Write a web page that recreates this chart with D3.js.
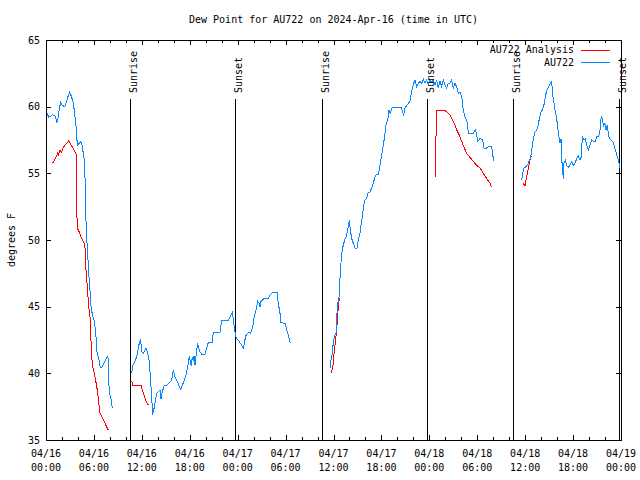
<!DOCTYPE html>
<html><head><meta charset="utf-8">
<script src="https://cdn.jsdelivr.net/npm/d3@7"></script>
<style>
body{margin:0;background:#fff}
svg{display:block}
text{font-family:"DejaVu Sans Mono","Liberation Mono",monospace;font-size:10px;fill:#000}
</style>
</head><body><svg id="c" width="640" height="480"></svg>
<script>
const chartTitle = "Dew Point for AU722 on 2024-Apr-16 (time in UTC)";
const yAxisLabel = "degrees F";
const startTime = "2024-04-16T00:00:00Z";
const yTicks = [35, 40, 45, 50, 55, 60, 65];
const seriesNames = ["AU722 Analysis", "AU722"];
const seriesColors = ["#ff0000", "#0a88ff"];

// hours since 04/16 00:00 UTC; null value = gap
const analysisHours = [
  0.79,1.0,1.25,1.44,1.56,1.75,1.94,2.13,2.5,2.88,3.26,3.57,3.76,3.79,3.92,4.17,4.47,4.76,4.92,5.01,5.17,5.35,5.51,5.63,5.72,5.85,6.14,6.42,6.76,7.18,7.8,
  9.0,
  10.73,10.89,11.9,12.06,12.27,12.48,12.73,12.94,
  20.0,
  35.65,35.77,35.94,36.06,36.19,36.31,36.44,36.53,36.65,36.73,36.85,
  42.0,
  48.8,48.81,48.92,49.88,50.18,50.59,50.8,51.13,51.43,51.72,52.05,52.38,52.68,53.09,53.51,53.93,54.35,54.76,55.18,55.6,55.81,
  58.0,
  59.77,59.98,60.1,60.27,60.44,60.61,60.73,60.9
];
const analysisValues = [
  55.75,55.9,56.2,56.5,56.4,56.7,56.6,56.9,57.2,57.45,57.0,56.7,56.45,53.6,50.9,50.6,50.1,49.8,49.25,47.75,46.5,45.0,44.25,42.5,41.25,40.5,39.75,38.75,37.0,36.5,35.75,
  null,
  39.4,39.1,39.1,38.75,38.4,38.0,37.7,37.6,
  null,
  40.1,40.1,40.6,41.4,42.1,42.75,43.6,44.4,45.25,45.6,45.6,
  null,
  54.7,57.2,59.75,59.75,59.6,59.4,59.1,58.75,58.25,57.9,57.4,56.9,56.5,56.2,55.9,55.6,55.4,55.0,54.6,54.25,53.95,
  null,
  54.25,54.05,54.5,55.0,55.5,56.0,56.3,56.2
];

const obsHours = [
  0.09,0.34,0.59,0.84,1.21,1.34,1.47,1.72,1.84,2.04,2.34,2.59,2.75,2.97,3.22,3.42,3.59,3.79,3.92,4.17,4.35,4.51,4.67,4.85,4.92,5.01,5.1,5.22,5.3,5.47,5.63,5.8,6.05,6.22,6.39,6.6,6.8,7.05,7.35,7.55,7.76,7.8,7.93,8.14,8.3,
  9.5,
  10.73,10.89,11.14,11.36,11.56,11.73,11.86,11.98,12.18,12.4,12.52,12.68,12.9,13.02,13.19,13.36,13.49,13.65,13.86,14.06,14.27,14.4,14.56,14.81,15.11,15.4,15.74,15.94,16.15,16.44,16.69,16.9,17.07,17.32,17.49,17.66,17.82,17.94,18.07,18.19,18.32,18.44,18.53,18.66,18.75,18.87,19.0,19.07,19.28,19.5,19.91,20.12,20.32,20.82,20.95,21.79,22.0,22.83,23.08,23.25,23.38,23.45,23.58,23.7,23.88,24.08,24.29,24.51,24.71,25.01,25.26,25.42,25.58,25.76,25.96,26.08,26.26,26.42,26.51,26.67,26.8,26.92,27.09,27.26,27.84,28.09,28.39,28.93,29.09,29.3,29.43,29.93,30.14,30.34,30.47,30.59,
  33.0,
  35.6,35.69,35.85,35.94,36.1,36.31,36.44,36.53,36.69,36.78,36.9,37.03,37.19,37.35,37.57,37.73,37.85,37.98,38.1,38.28,38.48,38.69,38.94,39.11,39.32,39.44,39.61,39.78,39.94,40.16,40.28,40.57,40.78,40.98,41.2,41.41,41.61,41.74,41.86,42.04,42.24,42.45,42.57,42.79,42.95,43.11,43.29,43.49,44.45,44.67,44.79,44.95,45.17,45.37,45.58,45.71,45.87,46.04,46.21,46.42,46.62,46.83,47.05,47.25,47.46,47.67,47.87,48.08,48.3,48.5,48.71,48.92,49.12,49.34,49.55,49.75,49.96,50.17,50.38,50.59,50.8,51.0,51.21,51.42,51.63,51.84,52.05,52.25,52.46,52.68,52.8,52.88,53.51,53.76,53.93,54.05,54.34,54.68,54.85,55.18,55.39,55.81,55.94,56.06,
  58.0,
  59.57,59.69,59.85,60.1,60.39,60.61,60.77,60.9,61.02,61.23,61.45,61.64,61.77,61.98,62.2,62.4,62.57,62.7,62.86,63.02,63.2,63.32,63.45,63.61,63.77,63.95,64.07,64.24,64.36,64.49,64.57,64.7,64.78,64.86,65.03,65.2,65.4,65.61,65.83,66.03,66.24,66.45,66.65,66.87,67.03,67.16,67.37,67.53,67.71,67.91,68.12,68.33,68.53,68.75,68.96,69.21,69.37,69.53,69.71,69.78,69.99,70.12,70.29,70.46,70.71,70.96,71.13,71.29,71.46,71.66,71.88
];
const obsValues = [
  59.6,59.2,59.3,59.4,59.25,58.75,59.05,60.0,60.3,60.1,60.0,60.4,60.75,61.1,60.7,60.25,59.5,58.4,57.1,57.25,57.4,57.1,56.5,55.75,53.6,51.4,50.1,49.1,47.9,46.6,45.1,44.4,43.9,43.1,41.6,41.1,40.4,40.5,40.9,41.1,41.3,40.1,38.6,38.1,37.4,
  null,
  40.05,40.6,40.9,41.25,41.9,42.4,42.5,41.6,41.5,41.75,41.9,41.6,41.0,40.1,38.6,36.9,37.25,37.75,38.5,38.6,38.75,38.1,38.6,39.1,39.1,39.25,39.5,40.25,39.75,39.4,39.0,38.8,39.1,39.5,39.75,40.25,40.75,41.3,40.9,40.55,41.25,40.9,41.3,40.6,41.1,41.75,42.25,42.0,41.6,41.45,41.45,41.9,42.3,42.3,43.1,43.1,43.95,43.95,44.3,44.5,44.6,43.95,43.5,42.9,42.6,42.5,42.3,42.1,41.9,42.8,43.0,43.1,43.0,43.25,43.75,44.25,44.6,45.1,45.4,45.25,45.0,45.4,45.5,45.6,45.6,45.9,46.1,46.1,45.25,44.5,43.8,43.75,43.25,42.9,42.5,42.25,
  null,
  40.4,41.0,41.5,42.1,42.75,43.0,44.5,45.25,45.75,46.75,48.0,49.0,49.5,49.9,50.25,50.6,51.0,51.5,50.75,50.1,49.75,49.4,49.4,50.0,50.5,51.1,51.75,52.6,53.0,53.1,53.5,53.6,53.9,54.25,54.75,54.95,54.95,55.25,55.75,56.4,57.1,58.0,58.6,59.0,59.75,59.5,59.9,59.95,59.95,59.6,59.4,59.9,60.1,60.25,60.4,60.9,61.4,61.75,62.0,61.5,61.75,61.9,61.75,62.05,61.75,62.0,61.6,62.0,61.8,62.0,61.6,62.0,61.4,61.9,61.5,62.0,61.6,61.4,61.75,61.75,62.0,61.4,61.75,61.5,61.0,61.1,60.75,59.75,59.25,59.0,58.5,58.0,58.0,58.25,57.9,57.4,57.6,57.5,56.9,56.9,57.0,57.0,56.4,55.9,
  null,
  54.5,55.0,55.4,55.5,55.75,56.1,56.5,57.1,57.6,58.1,58.25,58.6,59.1,59.6,59.8,60.25,60.9,61.2,61.4,61.6,61.8,61.9,60.9,60.25,59.6,59.1,58.4,57.75,57.25,57.6,56.1,55.25,54.55,55.75,56.0,55.6,55.45,55.6,55.9,55.6,55.75,56.1,56.3,56.0,56.25,57.75,57.5,57.6,57.1,56.75,57.1,57.5,57.4,57.4,57.75,57.75,58.25,59.25,59.1,58.5,58.75,58.25,58.6,57.75,57.5,57.4,57.1,56.75,56.4,56.0,55.4
];

const sunEventHours = [10.52, 23.67, 34.6, 47.75, 58.52, 71.79];
const sunEventLabels = ["Sunrise", "Sunset", "Sunrise", "Sunset", "Sunrise", "Sunset"];

const W = 640, H = 480;
const M = {left: 46, right: 621, top: 40, bottom: 440};
const t0 = new Date(startTime);
const hToDate = h => new Date(t0.getTime() + h * 3600e3);

const x = d3.scaleUtc().domain([t0, hToDate(72)]).range([M.left, M.right]);
const y = d3.scaleLinear().domain([35, 65]).range([M.bottom, M.top]);

const svg = d3.select("#c");
svg.append("rect").attr("width", W).attr("height", H).attr("fill", "#fff");

// title
svg.append("text").attr("x", (M.left + M.right) / 2).attr("y", 23)
  .attr("text-anchor", "middle").text(chartTitle);

// y label
svg.append("text").attr("transform", `translate(15,${(M.top + M.bottom) / 2}) rotate(-90)`)
  .attr("text-anchor", "middle").text(yAxisLabel);

const g = svg.append("g").attr("shape-rendering", "crispEdges");

// ticks
const majorTicks = x.ticks(d3.utcHour.every(6));
const minorTicks = x.ticks(d3.utcHour.every(2));
const tickG = g.append("g").attr("stroke", "#000").attr("stroke-width", 1);
minorTicks.forEach(d => {
  const xx = Math.round(x(d)) + 0.5;
  const major = majorTicks.some(m => +m === +d);
  const len = major ? 5 : 3;
  tickG.append("line").attr("x1", xx).attr("x2", xx).attr("y1", M.bottom).attr("y2", M.bottom - len);
  tickG.append("line").attr("x1", xx).attr("x2", xx).attr("y1", M.top).attr("y2", M.top + len);
});
yTicks.forEach(v => {
  const yy = Math.round(y(v)) + 0.5;
  tickG.append("line").attr("x1", M.left).attr("x2", M.left + 5).attr("y1", yy).attr("y2", yy);
  tickG.append("line").attr("x1", M.right).attr("x2", M.right - 5).attr("y1", yy).attr("y2", yy);
});

// tick labels
const fmtD = d3.utcFormat("%m/%d"), fmtT = d3.utcFormat("%H:%M");
majorTicks.forEach(d => {
  svg.append("text").attr("x", x(d)).attr("y", 457).attr("text-anchor", "middle").text(fmtD(d));
  svg.append("text").attr("x", x(d)).attr("y", 471).attr("text-anchor", "middle").text(fmtT(d));
});
yTicks.forEach(v => {
  svg.append("text").attr("x", 40).attr("y", y(v) + 3.5).attr("text-anchor", "end").text(v);
});

// sun events
sunEventHours.forEach((h, i) => {
  const xx = Math.round(x(hToDate(h))) + 0.5;
  g.append("line").attr("x1", xx).attr("x2", xx).attr("y1", 99).attr("y2", M.bottom)
    .attr("stroke", "#000").attr("stroke-width", 1);
  svg.append("text").attr("transform", `translate(${xx + 6},93) rotate(-90)`)
    .attr("text-anchor", "start").text(sunEventLabels[i]);
});

// series
const line = d3.line().defined(d => d.v !== null).x(d => x(hToDate(d.h))).y(d => y(d.v));
const analysis = analysisHours.map((h, i) => ({h, v: analysisValues[i]}));
const obs = obsHours.map((h, i) => ({h, v: obsValues[i]}));
g.append("path").datum(analysis).attr("d", line).attr("fill", "none")
  .attr("stroke", seriesColors[0]).attr("stroke-width", 1);
g.append("path").datum(obs).attr("d", line).attr("fill", "none")
  .attr("stroke", seriesColors[1]).attr("stroke-width", 1);

// legend
seriesNames.forEach((n, i) => {
  const ly = 49.5 + i * 12.5;
  svg.append("text").attr("x", 574).attr("y", ly + 3.5).attr("text-anchor", "end").text(n);
  g.append("line").attr("x1", 581).attr("x2", 610).attr("y1", Math.round(ly) + 0.5).attr("y2", Math.round(ly) + 0.5)
    .attr("stroke", seriesColors[i]).attr("stroke-width", 1);
});

// frame
g.append("rect").attr("x", M.left + 0.5).attr("y", M.top + 0.5)
  .attr("width", M.right - M.left).attr("height", M.bottom - M.top)
  .attr("fill", "none").attr("stroke", "#000").attr("stroke-width", 1);
</script>
</body></html>
